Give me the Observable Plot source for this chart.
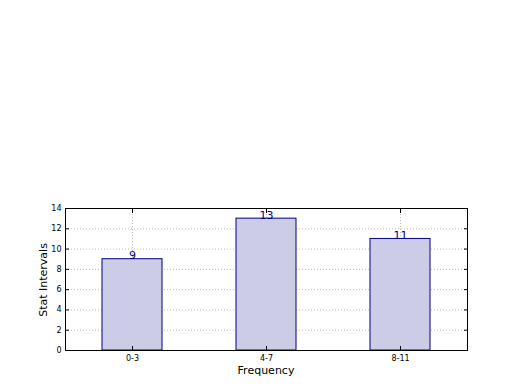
<!DOCTYPE html>
<html><head><meta charset="utf-8">
<script src="https://cdn.jsdelivr.net/npm/d3@7"></script>
<script src="https://cdn.jsdelivr.net/npm/@observablehq/plot@0.6"></script>
<style>body{margin:0;background:#fff}</style>
</head><body><div id="chart"></div>
<script>
const categories = ["0-3", "4-7", "8-11"];
const values = [9, 13, 11];
const yTicks = [0, 2, 4, 6, 8, 10, 12, 14];
const data = categories.map((c, i) => ({cat: c, value: values[i]}));
const font = "DejaVu Sans, sans-serif";
const chart = Plot.plot({
  width: 520, height: 390,
  marginLeft: 65, marginRight: 53, marginTop: 208, marginBottom: 40,
  style: {fontFamily: font, background: "#fff", color: "#000"},
  x: {type: "band", domain: categories, paddingInner: 0.55, paddingOuter: 0.275},
  y: {domain: [0, 14]},
  marks: [
    Plot.gridX(categories, {stroke: "#b8b8b8", strokeOpacity: 1, strokeDasharray: "1,2"}),
    Plot.gridY(yTicks, {stroke: "#b8b8b8", strokeOpacity: 1, strokeDasharray: "1,2"}),
    Plot.barY(data, {x: "cat", y: "value", fill: "#ccccE6", stroke: "#000080", strokeWidth: 1}),
    Plot.text(data, {x: "cat", y: "value", text: d => String(d.value), fill: "#000080", fontSize: 11, lineAnchor: "bottom", dy: 0}),
    Plot.axisX(categories, {anchor: "bottom", tickSize: -4, tickPadding: 9, fontSize: 8, label: null}),
    Plot.axisX(categories, {anchor: "top", tickSize: -4, tickFormat: () => "", label: null}),
    Plot.axisY(yTicks, {anchor: "left", tickSize: -4, tickPadding: 8, fontSize: 8, label: null}),
    Plot.axisY(yTicks, {anchor: "right", tickSize: -4, tickFormat: () => "", label: null}),
    Plot.frame({stroke: "#000", strokeWidth: 1})
  ]
});
const svg = d3.select(chart);
svg.append("text").attr("x", 266).attr("y", 374).attr("text-anchor", "middle")
  .attr("font-family", font).attr("font-size", 11).text("Frequency");
svg.append("text").attr("transform", "translate(47,280) rotate(-90)").attr("text-anchor", "middle")
  .attr("font-family", font).attr("font-size", 11).text("Stat Intervals");
document.getElementById("chart").appendChild(chart);
</script>
</body></html>
